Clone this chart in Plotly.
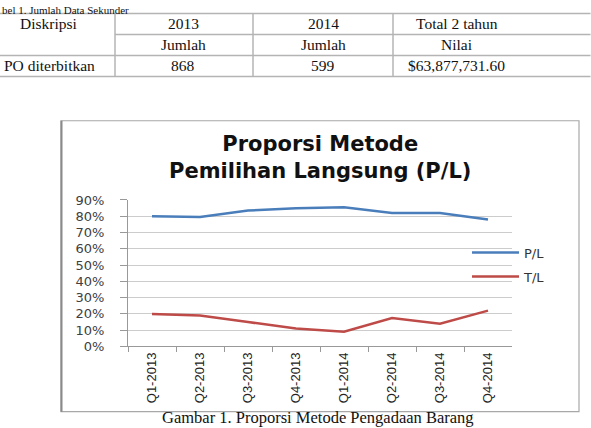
import plotly.graph_objects as go

W, H = 591, 428

# ---- data ----
quarters = ["Q1-2013", "Q2-2013", "Q3-2013", "Q4-2013", "Q1-2014", "Q2-2014", "Q3-2014", "Q4-2014"]
pl_values = [0.80, 0.795, 0.835, 0.85, 0.855, 0.82, 0.82, 0.78]
tl_values = [0.20, 0.19, 0.15, 0.11, 0.09, 0.175, 0.14, 0.22]
series_names = ["P/L", "T/L"]
y_ticks = [0, 0.1, 0.2, 0.3, 0.4, 0.5, 0.6, 0.7, 0.8, 0.9]

table_caption = "bel 1. Jumlah Data Sekunder"
table_header1 = ["Diskripsi", "2013", "2014", "Total 2 tahun"]
table_header2 = ["Jumlah", "Jumlah", "Nilai"]
table_row = ["PO diterbitkan", "868", "599", "$63,877,731.60"]
chart_title = "Proporsi Metode<br>Pemilihan Langsung (P/L)"
figure_caption = "Gambar 1. Proporsi Metode Pengadaan Barang"

# observed vertical mapping of the rendered page (compensated here)
V_SCALE, V_OFF = 0.962, 7.6


def X(px):
    return px / W


def Y(py):
    return 1 - ((py - V_OFF) / V_SCALE) / H


fig = go.Figure()
fig.add_trace(go.Scatter(x=quarters, y=pl_values, name=series_names[0], mode="lines",
                         line=dict(color="#4a7ebb", width=2.5), legendgroup="a"))
fig.add_trace(go.Scatter(x=quarters, y=tl_values, name=series_names[1], mode="lines",
                         line=dict(color="#be4b48", width=2.5), legendgroup="b"))

serif = "Liberation Serif, Times New Roman, serif"
sans = "DejaVu Sans, Verdana, sans-serif"

shapes = []
annotations = []

# chart frame
shapes.append(dict(type="rect", xref="paper", yref="paper", x0=X(61), x1=X(579), y0=Y(411), y1=Y(121),
                   line=dict(color="#a8a8a8", width=1.2)))
shapes.append(dict(type="line", xref="paper", yref="paper", x0=X(61.5), x1=X(61.5), y0=Y(411), y1=Y(121),
                   line=dict(color="#8a8a8a", width=2)))

# table lines
tl = dict(color="#b4b4b4", width=1.5)
for y, x0 in [(14, 0), (35, 115), (56, 0), (77, 0)]:
    shapes.append(dict(type="line", xref="paper", yref="paper", x0=X(x0), x1=X(590.5), y0=Y(y), y1=Y(y), line=tl))
for x in [115, 253, 393]:
    shapes.append(dict(type="line", xref="paper", yref="paper", x0=X(x), x1=X(x), y0=Y(14), y1=Y(77), line=tl))


def txt(s, x, y, size=15, font=serif, color="#111111", xanchor="center"):
    annotations.append(dict(text=s, x=X(x), y=Y(y), xref="paper", yref="paper", showarrow=False,
                            xanchor=xanchor, yanchor="middle", borderpad=0,
                            font=dict(family=font, size=size, color=color)))


txt(table_caption, 1, 10.5, size=11, xanchor="left")
cols = [49, 183, 323, 457]
for s, x in zip(table_header1, cols):
    txt(s, x, 24, size=15.5)
for s, x in zip(table_header2, cols[1:]):
    txt(s, x, 45, size=15.5)
for s, x in zip(table_row, cols):
    txt(s, x, 66, size=15.5)

# chart title
txt("<b>" + chart_title + "</b>", 320, 157.5, size=21, font=sans)

# figure caption
txt(figure_caption, 318, 417, size=16.5)

fig.update_layout(
    width=W, height=H,
    margin=dict(l=0, r=0, t=0, b=0),
    paper_bgcolor="white", plot_bgcolor="white",
    shapes=shapes, annotations=annotations,
    showlegend=True,
    legend=dict(x=X(467), y=Y(237.5), xanchor="left", yanchor="top", itemwidth=47,
                font=dict(family=sans, size=13, color="#333333"),
                tracegroupgap=4, bgcolor="rgba(0,0,0,0)"),
    xaxis=dict(domain=[X(128), X(512)], type="category", tickson="boundaries", range=[-0.5, 7.5],
               ticks="outside", ticklen=5, tickcolor="#999999", tickangle=-90,
               showline=True, linecolor="#999999", linewidth=1, showgrid=False,
               tickfont=dict(family="Liberation Sans Narrow, Arial Narrow, sans-serif", size=13, color="#222222"),
               fixedrange=True),
    yaxis=dict(domain=[Y(346), Y(200)], range=[0, 0.9], tickvals=y_ticks, tickformat=".0%",
               ticks="outside", ticklen=7, tickcolor="#999999", ticklabelstandoff=13,
               showline=True, linecolor="#999999", linewidth=1,
               showgrid=True, gridcolor="#cccccc", gridwidth=1, zeroline=False,
               tickfont=dict(family=sans, size=13, color="#404040"), fixedrange=True),
)

page_fix = """
var els=[document.documentElement, document.body];
els.forEach(function(e){e.style.margin='0';e.style.padding='0';});
"""
fig.write_html("out.html", post_script=page_fix)
